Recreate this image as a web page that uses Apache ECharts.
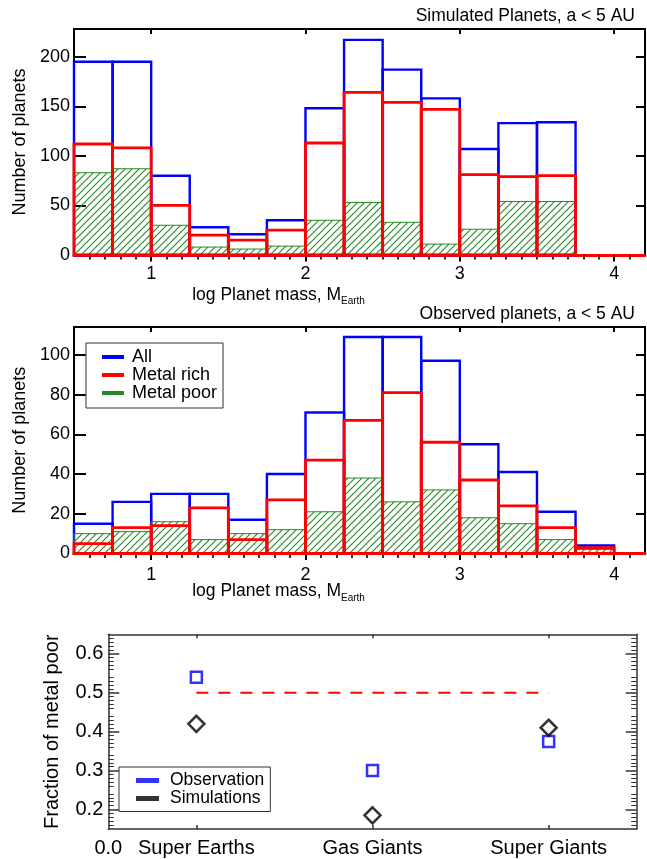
<!DOCTYPE html>
<html><head><meta charset="utf-8">
<script src="https://cdn.jsdelivr.net/npm/echarts@6/dist/echarts.min.js"></script>
<style>html,body{margin:0;padding:0;background:#fff}#c{width:647px;height:859px}</style>
</head><body><div id="c"></div>
<script>
// ---------- data ----------
const binStarts = [0.5,0.75,1.0,1.25,1.5,1.75,2.0,2.25,2.5,2.75,3.0,3.25,3.5,3.75];
const binWidth = 0.25;
const simAll  = [195,195,80,28,21,35,148,217,187,158,107,133,134];
const simRich = [112,108,50,20,15,25,113,164,154,147,81,79,80];
const simPoor = [83,87,30,8,6,9,35,53,33,11,26,54,54];
const obsAll  = [15,26,30,30,17,40,71,109,109,97,55,41,21,4];
const obsRich = [5,13,14,23,7,27,47,67,81,56,37,24,13,3];
const obsPoor = [10,11,16,7,10,12,21,38,26,32,18,15,7,2];
const histXTicks = [1,2,3,4];
const histXMinorTicks = [0.6,0.7,0.8,0.9,1.1,1.2,1.3,1.4,1.5,1.6,1.7,1.8,1.9,2.1,2.2,2.3,2.4,2.5,2.6,2.7,2.8,2.9,3.1,3.2,3.3,3.4,3.5,3.6,3.7,3.8,3.9,4.1];
const simYTicks = [0,50,100,150,200];
const obsYTicks = [0,20,40,60,80,100];
const groups = ['Super Earths','Gas Giants','Super Giants'];
const groupPos = [1,2,3];
const fracStartLabel = '0.0';
const fracObserved  = [0.54,0.30,0.375];
const fracSimulated = [0.42,0.185,0.41];
const halfLineX = [1,3];
const halfLineY = 0.5;
const fracYTicks = [0.2,0.3,0.4,0.5,0.6];

// ---------- helpers ----------
const FF = 'Liberation Sans, Arial, Helvetica, sans-serif';
const GREEN = '#228B22';
function makeHatch(){
  const s = 7, c = document.createElement('canvas');
  c.width = s; c.height = s;
  const g = c.getContext('2d');
  g.strokeStyle = GREEN; g.lineWidth = 1.1;
  g.beginPath();
  g.moveTo(-1, s+1); g.lineTo(s+1, -1);
  g.moveTo(-1, 1); g.lineTo(1, -1);
  g.moveTo(s-1, s+1); g.lineTo(s+1, s-1);
  g.stroke();
  return c;
}
const hatchPattern = {image: makeHatch(), repeat: 'repeat'};

function bins(arr){ return arr.map((v,i)=>[binStarts[i], binStarts[i]+binWidth, v]); }
function rectRender(kind){
  return function(params, api){
    const x0 = api.value(0), x1 = api.value(1), v = api.value(2);
    const a = api.coord([x0, v]), b = api.coord([x1, 0]);
    const shape = {x:a[0], y:a[1], width:b[0]-a[0], height:b[1]-a[1]};
    let style;
    if (kind === 'all') style = {fill:'none', stroke:'#0000ff', lineWidth:2.4};
    else if (kind === 'rich') style = {fill:'none', stroke:'#ff0000', lineWidth:2.8};
    else style = {fill:hatchPattern, stroke:GREEN, lineWidth:1};
    return {type:'rect', shape, style};
  };
}
function histSeries(name, kind, arr, idx, z){
  return {type:'custom', name, renderItem:rectRender(kind), data:bins(arr),
    encode:{x:[0,1], y:2}, xAxisIndex:idx, yAxisIndex:idx, z, silent:true};
}
function histXBottom(g){
  return {type:'value', gridIndex:g, position:'bottom', min:0.5, max:4.2, interval:0.5,
    axisLine:{show:true, onZero:false, lineStyle:{color:'#ff0000', width:3}},
    axisTick:{show:true, inside:false, length:6.5, customValues:histXTicks, lineStyle:{color:'#000', width:2}},
    axisLabel:{show:true, customValues:histXTicks, margin:g===0?10:13, fontSize:18, color:'#000', fontFamily:FF},
    splitLine:{show:false}};
}
function histXMinor(g){
  return {type:'value', gridIndex:g, position:'bottom', min:0.5, max:4.2, interval:0.1,
    axisLine:{show:false, onZero:false},
    axisTick:{show:true, inside:false, length:4.5, customValues:histXMinorTicks, lineStyle:{color:'#000', width:1.6}},
    axisLabel:{show:false}, splitLine:{show:false}};
}
function histXTop(g){
  return {type:'value', gridIndex:g, position:'top', min:0.5, max:4.2, interval:0.5,
    axisLine:{show:true, onZero:false, lineStyle:{color:'#000', width:2}},
    axisTick:{show:true, inside:true, length:5, customValues:histXTicks, lineStyle:{color:'#000', width:2}},
    axisLabel:{show:false}, splitLine:{show:false}};
}
function histYLeft(g, max, interval, ticks){
  return {type:'value', gridIndex:g, position:'left', min:0, max, interval,
    name:'Number of planets', nameLocation:'middle', nameRotate:90, nameGap:45,
    nameTextStyle:{fontSize:18, color:'#000', fontFamily:FF},
    axisLine:{show:true, onZero:false, lineStyle:{color:'#000', width:2}},
    axisTick:{show:true, inside:true, length:12, customValues:ticks, lineStyle:{color:'#000', width:2}},
    axisLabel:{show:true, customValues:ticks, margin:4, fontSize:18, color:'#000', fontFamily:FF},
    splitLine:{show:false}};
}
function histYRight(g, max, interval, ticks){
  return {type:'value', gridIndex:g, position:'right', min:0, max, interval,
    axisLine:{show:true, onZero:false, lineStyle:{color:'#000', width:2}},
    axisTick:{show:true, inside:true, length:9, customValues:ticks.filter(t=>t>0), lineStyle:{color:'#000', width:2}},
    axisLabel:{show:false}, splitLine:{show:false}};
}
const DK = '#333';
function fracY(pos){
  const left = pos === 'left';
  return {type:'value', gridIndex:2, position:pos, min:0.15, max:0.65, interval:0.05,
    name: left ? 'Fraction of metal poor' : '', nameLocation:'middle', nameRotate:90, nameGap:46,
    nameTextStyle:{fontSize:20, color:'#000', fontFamily:FF},
    axisLine:{show:true, onZero:false, lineStyle:{color:DK, width:1.5}},
    axisTick:{show:true, inside:true, length:11, customValues:fracYTicks, lineStyle:{color:DK, width:1.5}},
    minorTick:{show:true, splitNumber:5, length:5.5, lineStyle:{color:DK, width:1}},
    axisLabel:{show:left, customValues:fracYTicks, margin:5, fontSize:20, color:'#000', fontFamily:FF,
      formatter:v=>Number(v).toFixed(1)},
    splitLine:{show:false}, minorSplitLine:{show:false}};
}
function fracX(pos){
  const bottom = pos === 'bottom';
  return {type:'value', gridIndex:2, position:pos, min:0.5, max:3.5, interval:0.5,
    axisLine:{show:true, onZero:false, lineStyle:{color:DK, width:1.5}},
    axisTick:{show:true, inside:true, length:4, customValues:groupPos, lineStyle:{color:DK, width:1.5}},
    axisLabel:{show:bottom, customValues:[0.5].concat(groupPos), margin:9, fontSize:20, color:'#000', fontFamily:FF,
      formatter:v=>{ const i = groupPos.indexOf(Number(v)); return i>=0 ? groups[i] : fracStartLabel; }},
    splitLine:{show:false}};
}

const chart = echarts.init(document.getElementById('c'), null, {renderer:'canvas'});
chart.setOption({
  animation:false,
  backgroundColor:'#fff',
  textStyle:{fontFamily:FF},
  grid:[
    {left:74, top:29, width:571, height:226, outerBoundsMode:'none'},
    {left:74, top:327, width:571, height:226.5, outerBoundsMode:'none'},
    {left:108.3, top:634.3, width:528.4, height:194.7, outerBoundsMode:'none'}
  ],
  xAxis:[histXBottom(0), histXTop(0), histXBottom(1), histXTop(1), fracX('bottom'), fracX('top'), histXMinor(0), histXMinor(1)],
  yAxis:[
    histYLeft(0, 228, 50, simYTicks), histYRight(0, 228, 50, simYTicks),
    histYLeft(1, 114, 20, obsYTicks), histYRight(1, 114, 20, obsYTicks),
    fracY('left'), fracY('right')
  ],
  legend:[
    {left:86, top:343, orient:'vertical', padding:[5,6,6,16], itemGap:0, itemWidth:22, itemHeight:4,
     backgroundColor:'#fff', borderColor:DK, borderWidth:1, selectedMode:false,
     textStyle:{fontSize:18, lineHeight:17.2, color:'#000', fontFamily:FF, padding:[0,0,0,3]},
     data:[
       {name:'All', icon:'rect', itemStyle:{color:'#0000ff', borderWidth:0}},
       {name:'Metal rich', icon:'rect', itemStyle:{color:'#ff0000', borderWidth:0}},
       {name:'Metal poor', icon:'rect', itemStyle:{color:GREEN, borderWidth:0}}
     ]},
    {left:119, top:767, orient:'vertical', padding:[4.5,6,4,17], itemGap:0, itemWidth:23, itemHeight:5,
     backgroundColor:'#fff', borderColor:DK, borderWidth:1, selectedMode:false,
     textStyle:{fontSize:17.5, lineHeight:17.6, color:'#000', fontFamily:FF, padding:[0,0,0,6]},
     data:[
       {name:'Observation', icon:'rect', itemStyle:{color:'#0000ff', borderWidth:0}},
       {name:'Simulations', icon:'rect', itemStyle:{color:'#000', borderWidth:0}}
     ]}
  ],
  graphic:[
    {type:'text', x:635, y:16.4, style:{text:'Simulated Planets, a < 5 AU', fontSize:17.5, fontFamily:FF, fill:'#000', align:'right', verticalAlign:'middle'}},
    {type:'text', x:635, y:314.5, style:{text:'Observed planets, a < 5 AU', fontSize:17.5, fontFamily:FF, fill:'#000', align:'right', verticalAlign:'middle'}},
    {type:'text', x:341, y:295, style:{text:'log Planet mass, M', fontSize:17.5, fontFamily:FF, fill:'#000', align:'right', verticalAlign:'middle'}},
    {type:'text', x:341, y:301.5, style:{text:'Earth', fontSize:10, fontFamily:FF, fill:'#000', align:'left', verticalAlign:'middle'}},
    {type:'text', x:341, y:591, style:{text:'log Planet mass, M', fontSize:17.5, fontFamily:FF, fill:'#000', align:'right', verticalAlign:'middle'}},
    {type:'text', x:341, y:598, style:{text:'Earth', fontSize:10, fontFamily:FF, fill:'#000', align:'left', verticalAlign:'middle'}}
  ],
  series:[
    histSeries('All', 'all', simAll, 0, 2),
    histSeries('Metal poor', 'poor', simPoor, 0, 3),
    histSeries('Metal rich', 'rich', simRich, 0, 4),
    histSeries('All', 'all', obsAll, 2, 2),
    histSeries('Metal poor', 'poor', obsPoor, 2, 3),
    histSeries('Metal rich', 'rich', obsRich, 2, 4),
    {type:'line', name:'Equal fraction', xAxisIndex:4, yAxisIndex:4, symbol:'none', silent:true,
     data:halfLineX.map(x=>[x, halfLineY]),
     lineStyle:{color:'#ff0000', width:2, type:[12,10]}, z:2},
    {type:'scatter', name:'Observation', xAxisIndex:4, yAxisIndex:4, symbol:'rect', symbolSize:11,
     data:groupPos.map((x,i)=>[x, fracObserved[i]]),
     itemStyle:{color:'rgba(0,0,0,0)', borderColor:'#0000ff', borderWidth:2.5}, z:3},
    {type:'scatter', name:'Simulations', xAxisIndex:4, yAxisIndex:4, symbol:'diamond', symbolSize:16,
     data:groupPos.map((x,i)=>[x, fracSimulated[i]]),
     itemStyle:{color:'rgba(0,0,0,0)', borderColor:'#000', borderWidth:2.5}, z:3}
  ]
});
</script></body></html>
